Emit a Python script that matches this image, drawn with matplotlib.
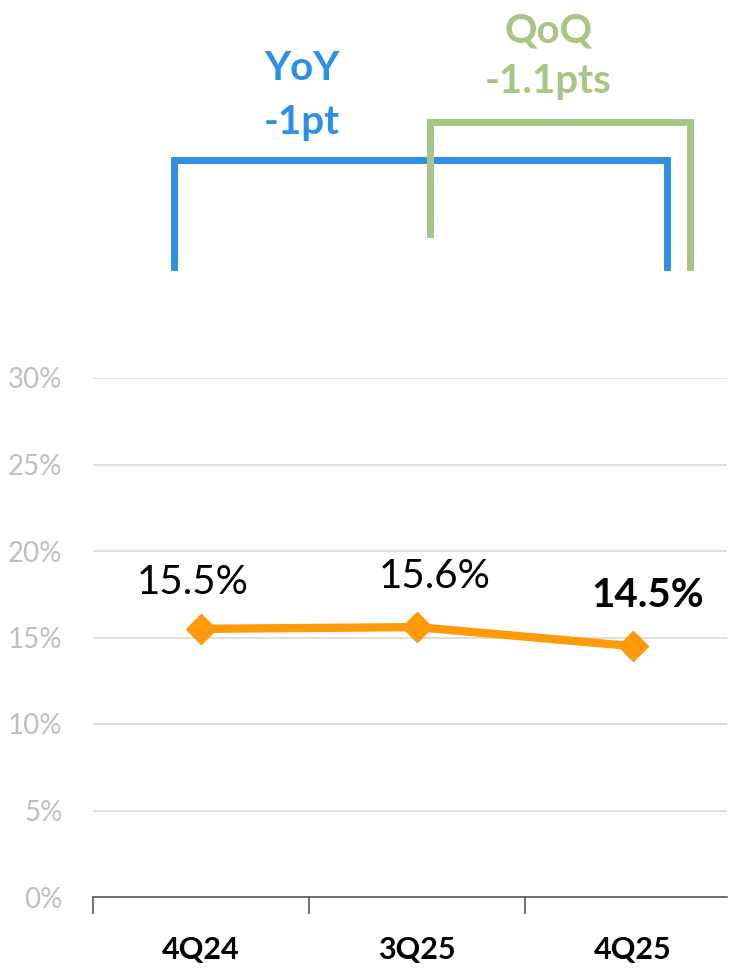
import matplotlib
matplotlib.use("Agg")
import matplotlib.pyplot as plt

plt.rcParams['font.family'] = ['Lato', 'DejaVu Sans']

quarters = ["4Q24", "3Q25", "4Q25"]
margin = [15.5, 15.6, 14.5]
labels = ["15.5%", "15.6%", "14.5%"]
yticks = [0, 5, 10, 15, 20, 25, 30]

yoy_lines = ["YoY", "-1pt"]
qoq_lines = ["QoQ", "-1.1pts"]

orange = "#FF9A0A"
blue = "#2E8FE5"
green = "#A7C585"

fig = plt.figure(figsize=(7.30, 9.73), dpi=100)
ax = fig.add_axes([93 / 730, 76 / 973, 634 / 730, 519 / 973])

x = list(range(len(quarters)))
ax.plot(x, margin, color=orange, lw=6, marker="D", ms=15, solid_capstyle="butt", zorder=3)

# data labels, last one bold
offsets = [(-0.04, 2.7), (0.08, 2.9), (0.07, 2.9)]
for i, (lab, off) in enumerate(zip(labels, offsets)):
    ax.text(x[i] + off[0], margin[i] + off[1], lab, ha="center", va="center",
            fontsize=29, fontweight="bold" if i == 2 else "normal", color="black")

ax.set_xlim(-0.5, -0.5 + 634 / 216)
ax.set_ylim(0, 30)
ax.set_yticks(yticks)
ax.set_yticklabels([f"{t}%" for t in yticks], color="#BFBFBF", fontsize=20)
ax.tick_params(axis="y", length=0, pad=22)
ax.yaxis.grid(True, color="#D9D9D9", lw=1.2)
ax.set_axisbelow(True)

ax.set_xticks(x)
ax.set_xticklabels(quarters, fontsize=22, fontweight="bold")
ax.tick_params(axis="x", length=0, pad=28)
# category boundary ticks
ax.set_xticks([-0.5, 0.5, 1.5], minor=True)
ax.tick_params(axis="x", which="minor", length=12, color="#595959", width=1.2)

for s in ["top", "right", "left"]:
    ax.spines[s].set_visible(False)
ax.spines["bottom"].set_color("#595959")
ax.spines["bottom"].set_linewidth(1.2)

# brackets
ax.plot([-0.125, -0.125, 2.157, 2.157], [36.4, 42.6, 42.6, 36.4], color=blue, lw=5,
        clip_on=False, solid_joinstyle="miter")
ax.plot([1.06, 1.06, 2.264, 2.264], [38.3, 44.8, 44.8, 36.4], color=green, lw=5,
        clip_on=False, solid_joinstyle="miter")
for txt, yy in zip(yoy_lines, [47.2, 44.1]):
    ax.text(0.468, yy, txt, ha="center", va="baseline", fontsize=29, fontweight="bold",
            color=blue)
for txt, yy in zip(qoq_lines, [49.4, 46.5]):
    ax.text(1.607, yy, txt, ha="center", va="baseline", fontsize=29, fontweight="bold",
            color=green)

fig.savefig("out.png", dpi=100)
